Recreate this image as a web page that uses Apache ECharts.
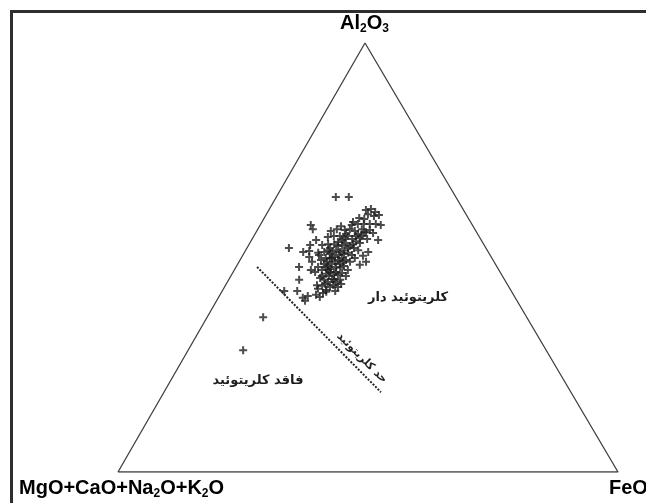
<!DOCTYPE html>
<html>
<head>
<meta charset="utf-8">
<script src="https://cdn.jsdelivr.net/npm/echarts@6/dist/echarts.min.js"></script>
<style>
  html, body { margin: 0; padding: 0; background: #ffffff; }
  #chart { width: 646px; height: 503px; }
</style>
</head>
<body>
<div id="chart"></div>
<script>
// Ternary compositions (wt%) of the analysed samples
const al2o3 = [28.4, 36.1, 42.2, 52.2, 47.8, 44.8, 42.2, 40.6, 41.0, 39.9,
  52.9, 51.5, 51.3, 50.1, 57.6, 56.6, 64.1, 64.1, 54.8, 61.1,
  61.3, 60.6, 59.9, 60.1, 59.7, 57.6, 57.8, 57.8, 57.8, 57.8,
  57.6, 54.1, 54.3, 51.3, 50.4, 49.0, 48.3, 41.3, 40.8, 41.7,
  42.7, 43.4, 42.4, 43.1, 42.2, 43.1, 44.3, 44.8, 45.2, 45.0,
  44.3, 44.8, 46.2, 46.6, 46.2, 45.9, 46.4, 47.1, 47.8, 48.5,
  48.0, 48.5, 47.8, 47.6, 48.0, 47.1, 49.4, 49.9, 49.7, 50.1,
  49.4, 49.9, 49.4, 49.0, 51.1, 51.3, 51.7, 51.3, 51.7, 51.3,
  51.7, 51.1, 50.6, 49.9, 52.9, 53.1, 53.1, 53.6, 52.9, 53.4,
  52.7, 52.2, 51.7, 55.0, 55.0, 54.5, 55.0, 54.3, 53.8, 53.4,
  56.4, 56.6, 56.2, 55.5, 55.0, 58.3, 59.2, 59.0, 56.6, 55.9,
  56.4, 55.7, 57.3, 56.6, 56.2, 49.0, 47.3, 49.0, 50.6, 49.0,
  45.7, 43.6, 43.8, 43.6, 46.6, 45.7, 49.0, 54.1, 47.1, 50.6,
  49.9, 46.6, 48.5, 47.1, 44.8, 47.6, 45.7, 50.8, 50.8, 52.7,
  52.2, 53.1, 55.0, 54.5, 55.9, 54.1, 55.5, 52.2, 42.0, 43.8];
const feo = [11.0, 11.2, 12.4, 8.4, 12.6, 14.1, 15.0, 16.9, 17.7, 17.7,
  12.3, 12.8, 11.7, 13.5, 10.1, 11.0, 11.9, 14.5, 14.9, 19.4,
  20.3, 21.5, 22.6, 20.3, 21.7, 18.3, 19.4, 20.6, 21.8, 23.0,
  24.1, 25.3, 23.0, 24.7, 24.1, 25.4, 24.5, 19.2, 20.2, 20.4,
  18.9, 19.4, 20.7, 21.1, 22.6, 22.7, 20.1, 19.1, 18.1, 20.6,
  21.7, 22.3, 18.8, 19.4, 20.4, 21.3, 21.9, 17.5, 16.4, 17.2,
  18.3, 18.8, 20.0, 20.9, 21.5, 22.7, 16.2, 16.9, 17.8, 18.5,
  19.6, 20.1, 21.2, 22.2, 14.8, 15.9, 16.5, 17.5, 18.1, 19.1,
  19.7, 20.8, 21.8, 22.7, 14.7, 15.8, 17.0, 17.5, 18.7, 19.2,
  20.4, 21.4, 22.5, 16.0, 17.2, 18.3, 18.8, 20.0, 21.0, 22.0,
  17.5, 18.4, 19.6, 20.6, 21.6, 18.2, 19.0, 20.1, 20.8, 22.0,
  22.5, 23.5, 16.3, 15.8, 14.8, 17.6, 19.2, 19.2, 19.2, 20.8,
  19.6, 21.5, 19.8, 18.3, 16.4, 23.0, 14.6, 12.9, 15.3, 15.2,
  18.1, 20.6, 20.4, 18.7, 21.1, 18.1, 18.2, 17.3, 20.1, 18.0,
  20.2, 20.8, 20.4, 21.5, 21.6, 18.1, 18.2, 16.6, 20.9, 23.0];
const mgoCaoNa2oK2o = [60.6, 52.7, 45.4, 39.4, 39.6, 41.1, 42.8, 42.5, 41.3, 42.4,
  34.8, 35.7, 37.0, 36.4, 32.3, 32.4, 24.0, 21.4, 30.3, 19.5,
  18.4, 17.9, 17.5, 19.6, 18.6, 24.1, 22.8, 21.6, 20.4, 19.2,
  18.3, 20.6, 22.7, 24.0, 25.5, 25.6, 27.2, 39.5, 39.0, 37.9,
  38.4, 37.2, 36.9, 35.8, 35.2, 34.2, 35.6, 36.1, 36.7, 34.4,
  34.0, 32.9, 35.0, 34.0, 33.4, 32.8, 31.7, 35.4, 35.8, 34.3,
  33.7, 32.7, 32.2, 31.5, 30.5, 30.2, 34.4, 33.2, 32.5, 31.4,
  31.0, 30.0, 29.4, 28.8, 34.1, 32.8, 31.8, 31.2, 30.2, 29.6,
  28.6, 28.1, 27.6, 27.4, 32.4, 31.1, 29.9, 28.9, 28.4, 27.4,
  26.9, 26.4, 25.8, 29.0, 27.8, 27.2, 26.2, 25.7, 25.2, 24.6,
  26.1, 25.0, 24.2, 23.9, 23.4, 23.5, 21.8, 20.9, 22.6, 22.1,
  21.1, 20.8, 26.4, 27.6, 29.0, 33.4, 33.5, 31.8, 30.2, 30.2,
  34.7, 34.9, 36.4, 38.2, 37.0, 31.3, 36.4, 33.0, 37.6, 34.2,
  32.0, 32.8, 31.1, 34.2, 34.1, 34.3, 36.1, 31.9, 29.1, 29.3,
  27.6, 26.1, 24.6, 24.0, 22.5, 27.8, 26.3, 31.2, 37.1, 33.2];

// Chloritoid-in boundary, end points as (Al2O3, FeO, MgO+CaO+Na2O+K2O)
const boundaryAl2o3 = [47.8, 18.6];
const boundaryFeo = [4.2, 43.4];
const boundaryMgo = [48.0, 38.0];

// Corners of the diagram
const cornerAl2o3 = [0, 0, 100, 0];
const cornerFeo = [0, 100, 0, 0];
const cornerMgo = [100, 0, 0, 100];

// Position of the Al2O3 apex along the base (fraction of the base length)
const APEX_X = 0.494;

// Ternary -> plane coordinates on 0..100 axes
function toXY(a, f, m) {
  const s = a + f + m;
  const A = a / s * 100, F = f / s * 100;
  return [F + APEX_X * A, A];
}

const samples = al2o3.map((a, i) => toXY(a, feo[i], mgoCaoNa2oK2o[i]));
const corners = cornerAl2o3.map((a, i) => toXY(a, cornerFeo[i], cornerMgo[i]));
const boundary = boundaryAl2o3.map((a, i) => toXY(a, boundaryFeo[i], boundaryMgo[i]));

const plus = 'path://M3,0H5V3H8V5H5V8H3V5H0V3H3Z';
const latin = 'Liberation Sans, Arial, sans-serif';
const persian = 'DejaVu Sans, sans-serif';

const chart = echarts.init(document.getElementById('chart'), null, { renderer: 'canvas' });

const subRich = {
  b: { fontFamily: latin, fontWeight: 'bold', fontSize: 20, color: '#1e1e1e', lineHeight: 24, verticalAlign: 'middle' },
  s: { fontFamily: latin, fontWeight: 'bold', fontSize: 12, color: '#1e1e1e', lineHeight: 24, verticalAlign: 'bottom' }
};

chart.setOption({
  animation: false,
  backgroundColor: '#ffffff',
  grid: { left: 118, top: 43, width: 500, height: 429 },
  xAxis: { type: 'value', min: 0, max: 100, show: false },
  yAxis: { type: 'value', min: 0, max: 100, show: false },
  series: [
    {
      type: 'line', data: corners, symbol: 'none', silent: true,
      lineStyle: { color: '#404040', width: 1.3 }
    },
    {
      type: 'line', data: boundary, symbol: 'none', silent: true,
      lineStyle: { color: '#222222', width: 2, type: [2, 1.5] }
    },
    {
      type: 'scatter', data: samples, symbol: plus, symbolSize: 8,
      itemStyle: { color: '#1f1f1f' }
    }
  ],
  graphic: [
    // frame
    { type: 'line', shape: { x1: 11.5, y1: 11.5, x2: 646, y2: 11.5 }, style: { stroke: '#2e2e2e', lineWidth: 3 } },
    { type: 'line', shape: { x1: 11.5, y1: 10, x2: 11.5, y2: 503 }, style: { stroke: '#2e2e2e', lineWidth: 3 } },
    // corner labels
    { type: 'text', left: 340, top: 13, style: { text: '{b|Al}{s|2}{b|O}{s|3}', rich: subRich } },
    { type: 'text', left: 19, top: 478, style: { text: '{b|MgO+CaO+Na}{s|2}{b|O+K}{s|2}{b|O}', rich: subRich } },
    { type: 'text', left: 609, top: 478, style: { text: '{b|FeO}', rich: subRich } },
    // field labels
    { type: 'text', x: 408, y: 298, style: { text: 'کلریتوئید دار', font: 'bold 13px ' + persian, fill: '#1e1e1e', align: 'center', verticalAlign: 'middle' } },
    { type: 'text', x: 258, y: 381, style: { text: 'فاقد کلریتوئید', font: 'bold 13px ' + persian, fill: '#1e1e1e', align: 'center', verticalAlign: 'middle' } },
    { type: 'text', x: 362, y: 358, rotation: -Math.PI / 4, style: { text: 'حد کلریتوئید', font: 'bold 11px ' + persian, fill: '#1e1e1e', align: 'center', verticalAlign: 'middle' } }
  ]
});
</script>
</body>
</html>
